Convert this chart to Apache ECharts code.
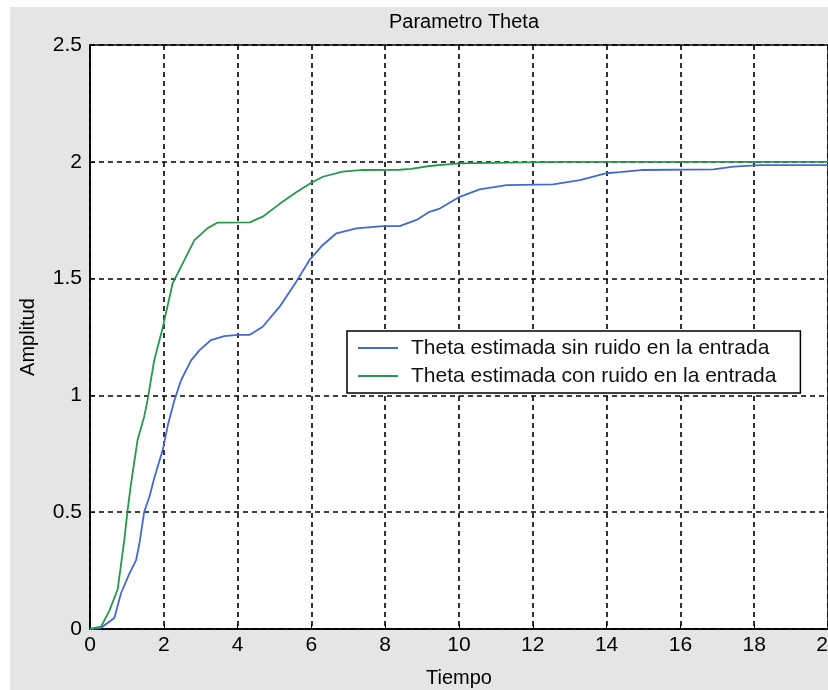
<!DOCTYPE html>
<html>
<head>
<meta charset="utf-8">
<script src="https://cdn.jsdelivr.net/npm/echarts@6/dist/echarts.min.js"></script>
<style>
html,body{margin:0;padding:0;background:#fff;}
#chart{width:828px;height:690px;
background: linear-gradient(to right, #ffffff 10px, transparent 10px), linear-gradient(#ffffff 7px, #e3e6e4 7px);}
</style>
</head>
<body>
<div id="chart"></div>
<script>
const titleText = 'Parametro Theta';
const xName = 'Tiempo';
const yName = 'Amplitud';
const seriesNames = ['Theta estimada sin ruido en la entrada', 'Theta estimada con ruido en la entrada'];

const tBlue = [0,0.3,0.66,0.84,1.07,1.25,1.34,1.47,1.61,1.74,1.97,2.11,2.29,2.47,2.74,2.97,3.28,3.64,4.0,4.32,4.68,5.14,5.59,5.95,6.31,6.68,7.22,7.94,8.39,8.85,9.2,9.48,10.02,10.56,11.29,12.55,13.28,14.0,14.36,15.0,16.9,17.44,18.16,20];
const vBlue = [0,0.005,0.047,0.153,0.238,0.295,0.367,0.502,0.566,0.645,0.766,0.873,0.98,1.066,1.15,1.194,1.237,1.254,1.259,1.259,1.294,1.38,1.487,1.58,1.644,1.694,1.715,1.725,1.725,1.751,1.786,1.80,1.85,1.882,1.90,1.903,1.922,1.951,1.956,1.965,1.968,1.979,1.986,1.986];

const tGreen = [0,0.3,0.53,0.75,0.93,1.02,1.11,1.29,1.47,1.56,1.74,1.97,2.24,2.56,2.83,3.19,3.46,4.33,4.68,5.14,5.59,6.0,6.31,6.85,7.4,8.39,8.7,9.2,10.0,12.8,20];
const vGreen = [0,0.01,0.08,0.17,0.38,0.51,0.62,0.81,0.91,0.98,1.15,1.29,1.48,1.58,1.665,1.716,1.74,1.741,1.765,1.82,1.87,1.91,1.936,1.958,1.965,1.966,1.97,1.982,1.993,2.0,2.0];

const xTicks = {min:0, max:20, interval:2};
const yTicks = {min:0, max:2.5, interval:0.5};

const zip = (a,b) => a.map((v,i)=>[v,b[i]]);
const chart = echarts.init(document.getElementById('chart'));
const fontFam = '"Liberation Sans", Arial, sans-serif';
chart.setOption({
  backgroundColor: 'transparent',
  animation: false,
  title: {text: titleText, left: 459, top: 7, textAlign: 'center',
    textStyle: {fontFamily: fontFam, fontSize: 20, fontWeight: 'normal', color: '#000'}},
  grid: {left: 90, right: 0, top: 45, bottom: 61, show: true, backgroundColor: '#fff',
    borderColor: '#000', borderWidth: 1.5, containLabel: false, outerBoundsMode: 'none'},
  legend: {
    orient: 'vertical', left: 347, top: 331,
    backgroundColor: '#fff', borderColor: '#000', borderWidth: 1.5, borderRadius: 0,
    padding: [6, 24, 6, 11], itemGap: 6, itemWidth: 40, itemHeight: 2, icon: 'rect',
    textStyle: {fontFamily: fontFam, fontSize: 21, color: '#111', lineHeight: 22, padding: [0,0,0,8]},
    data: seriesNames
  },
  xAxis: {type: 'value', min: xTicks.min, max: xTicks.max, interval: xTicks.interval,
    name: xName, nameLocation: 'middle', nameGap: 39,
    nameTextStyle: {fontFamily: fontFam, fontSize: 20, color: '#000'},
    axisLine: {show: true, lineStyle: {color: '#000', width: 1.5}},
    axisTick: {show: true, inside: true, length: 5, lineStyle: {color: '#000'}},
    axisLabel: {fontFamily: fontFam, fontSize: 21, color: '#000', margin: 6},
    splitLine: {show: true, lineStyle: {color: '#000', type: [5,4], width: 1.6}}},
  yAxis: {type: 'value', min: yTicks.min, max: yTicks.max, interval: yTicks.interval,
    name: yName, nameLocation: 'middle', nameGap: 52, nameRotate: 90,
    nameTextStyle: {fontFamily: fontFam, fontSize: 20, color: '#000'},
    axisLine: {show: true, lineStyle: {color: '#000', width: 1.5}},
    axisTick: {show: true, inside: true, length: 5, lineStyle: {color: '#000'}},
    axisLabel: {fontFamily: fontFam, fontSize: 21, color: '#000', margin: 8},
    splitLine: {show: true, lineStyle: {color: '#000', type: [5,4], width: 1.6}}},
  series: [
    {name: seriesNames[0], type: 'line', showSymbol: false, data: zip(tBlue, vBlue),
      lineStyle: {color: '#4468d2', width: 1.8}, itemStyle: {color: '#4468d2'}},
    {name: seriesNames[1], type: 'line', showSymbol: false, data: zip(tGreen, vGreen),
      lineStyle: {color: '#25994a', width: 1.8}, itemStyle: {color: '#25994a'}}
  ]
});
</script>
</body>
</html>
